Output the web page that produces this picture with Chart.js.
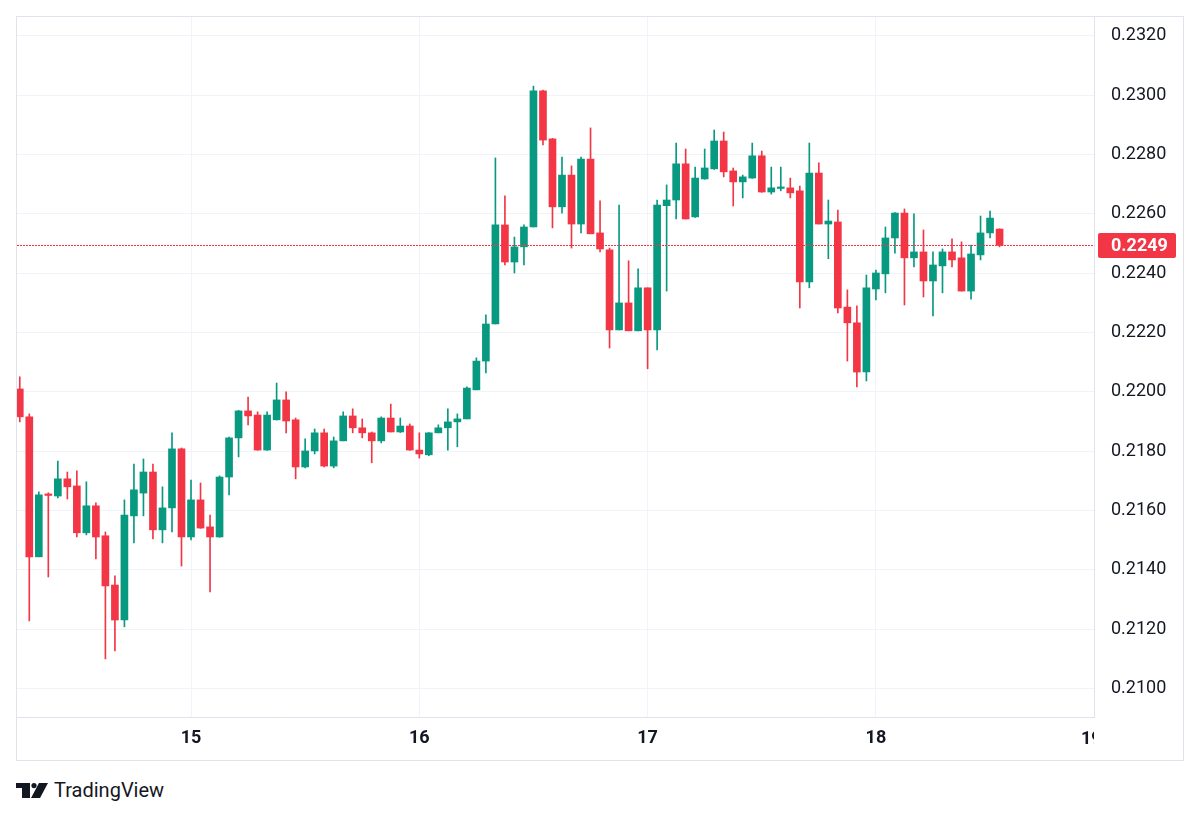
<!DOCTYPE html>
<html lang="en">
<head>
  <meta charset="UTF-8">
  <title>Hourly candles</title>
  <script src="https://cdn.jsdelivr.net/npm/chart.js"></script>
  <style>
    body {
      margin: 0;
      background: #ffffff;
      width: 1200px;
      height: 817px;
      position: relative;
      overflow: hidden;
    }

    .frame {
      position: absolute;
      left: 16px;
      top: 16px;
      width: 1166px;
      height: 743px;
      border: 1px solid #e0e3eb;
    }

    .brand {
      position: absolute;
      left: 16px;
      top: 778px;
      display: flex;
      align-items: center;
      font-family: Roboto, sans-serif;
      font-size: 20px;
      color: #131722;
    }

    .brand svg {
      margin-right: 6px;
    }
  </style>
</head>
<body>
  <div class="frame">
    <canvas id="grafico"></canvas>
  </div>

  <div class="brand">
    <svg width="32" height="15" viewBox="0 0 32 15">
      <rect x="0" y="0" width="14" height="5" fill="#131722"/>
      <rect x="6" y="0" width="8" height="15" fill="#131722"/>
      <circle cx="18" cy="2.6" r="2.6" fill="#131722"/>
      <polygon points="23,0 32,0 24,15 15,15" fill="#131722"/>
    </svg>
    <span>TradingView</span>
  </div>

  <script>
    // hourly candles, first one is day 14 at 06:00
    const firstHour = 14 + 6 / 24;

    const open = [
      0.22010, 0.21916, 0.21444, 0.21656, 0.21649, 0.21707, 0.21683, 0.21525, 0.21616, 0.21515,
      0.21349, 0.21231, 0.21582, 0.21659, 0.21730, 0.21535, 0.21609, 0.21808, 0.21511, 0.21636,
      0.21545, 0.21511, 0.21713, 0.21845, 0.21936, 0.21922, 0.21804, 0.21906, 0.21973, 0.21906,
      0.21747, 0.21801, 0.21862, 0.21750, 0.21835, 0.21919, 0.21879, 0.21862, 0.21835, 0.21912,
      0.21865, 0.21885, 0.21804, 0.21788, 0.21862, 0.21879, 0.21899, 0.21909, 0.22007, 0.22104,
      0.22229, 0.22563, 0.22438, 0.22489, 0.22556, 0.23015, 0.22853, 0.22624, 0.22731, 0.22566,
      0.22785, 0.22536, 0.22479, 0.22209, 0.22300, 0.22206, 0.22351, 0.22209, 0.22628, 0.22647,
      0.22769, 0.22590, 0.22718, 0.22752, 0.22846, 0.22745, 0.22708, 0.22721, 0.22796, 0.22674,
      0.22686, 0.22688, 0.22678, 0.22371, 0.22738, 0.22566, 0.22573, 0.22286, 0.22233, 0.22067,
      0.22347, 0.22398, 0.22519, 0.22603, 0.22452, 0.22472, 0.22374, 0.22425, 0.22472, 0.22452,
      0.22340, 0.22462, 0.22536, 0.22549
    ];
    const high = [
      0.22051, 0.21926, 0.21663, 0.21660, 0.21767, 0.21730, 0.21734, 0.21697, 0.21626, 0.21528,
      0.21380, 0.21636, 0.21757, 0.21774, 0.21757, 0.21680, 0.21862, 0.21811, 0.21703, 0.21693,
      0.21585, 0.21717, 0.21848, 0.21938, 0.21983, 0.21933, 0.21933, 0.22030, 0.22000, 0.21912,
      0.21842, 0.21875, 0.21875, 0.21848, 0.21933, 0.21943, 0.21909, 0.21865, 0.21916, 0.21959,
      0.21912, 0.21892, 0.21862, 0.21863, 0.21889, 0.21943, 0.21926, 0.22017, 0.22115, 0.22260,
      0.22789, 0.22661, 0.22522, 0.22563, 0.23031, 0.23018, 0.22855, 0.22792, 0.22762, 0.22792,
      0.22890, 0.22644, 0.22485, 0.22630, 0.22442, 0.22415, 0.22351, 0.22647, 0.22698, 0.22839,
      0.22819, 0.22758, 0.22819, 0.22883, 0.22876, 0.22755, 0.22731, 0.22839, 0.22812, 0.22758,
      0.22758, 0.22721, 0.22694, 0.22839, 0.22772, 0.22647, 0.22613, 0.22344, 0.22290, 0.22394,
      0.22411, 0.22556, 0.22605, 0.22617, 0.22600, 0.22546, 0.22472, 0.22482, 0.22516, 0.22506,
      0.22495, 0.22593, 0.22610, 0.22550
    ];
    const low = [
      0.21899, 0.21228, 0.21444, 0.21376, 0.21643, 0.21639, 0.21511, 0.21518, 0.21437, 0.21100,
      0.21127, 0.21208, 0.21491, 0.21582, 0.21504, 0.21491, 0.21528, 0.21413, 0.21501, 0.21540,
      0.21326, 0.21510, 0.21653, 0.21781, 0.21889, 0.21803, 0.21803, 0.21905, 0.21862, 0.21707,
      0.21744, 0.21791, 0.21747, 0.21744, 0.21835, 0.21862, 0.21845, 0.21761, 0.21828, 0.21865,
      0.21863, 0.21803, 0.21777, 0.21785, 0.21862, 0.21804, 0.21815, 0.21909, 0.22007, 0.22064,
      0.22229, 0.22428, 0.22401, 0.22428, 0.22556, 0.22833, 0.22553, 0.22603, 0.22485, 0.22536,
      0.22533, 0.22472, 0.22148, 0.22209, 0.22206, 0.22206, 0.22078, 0.22142, 0.22340, 0.22583,
      0.22583, 0.22588, 0.22717, 0.22750, 0.22725, 0.22627, 0.22654, 0.22720, 0.22673, 0.22667,
      0.22678, 0.22654, 0.22283, 0.22351, 0.22566, 0.22449, 0.22266, 0.22104, 0.22017, 0.22037,
      0.22310, 0.22334, 0.22468, 0.22293, 0.22421, 0.22320, 0.22256, 0.22334, 0.22421, 0.22340,
      0.22313, 0.22445, 0.22519, 0.22489
    ];
    const close = [
      0.21916, 0.21444, 0.21653, 0.21651, 0.21707, 0.21680, 0.21525, 0.21616, 0.21511, 0.21346,
      0.21231, 0.21585, 0.21670, 0.21730, 0.21535, 0.21609, 0.21808, 0.21511, 0.21636, 0.21541,
      0.21511, 0.21713, 0.21845, 0.21936, 0.21919, 0.21804, 0.21922, 0.21973, 0.21902, 0.21747,
      0.21801, 0.21862, 0.21750, 0.21835, 0.21919, 0.21879, 0.21862, 0.21835, 0.21912, 0.21865,
      0.21885, 0.21804, 0.21791, 0.21862, 0.21879, 0.21899, 0.21909, 0.22013, 0.22104, 0.22229,
      0.22563, 0.22438, 0.22489, 0.22556, 0.23015, 0.22849, 0.22624, 0.22731, 0.22566, 0.22785,
      0.22533, 0.22482, 0.22209, 0.22300, 0.22206, 0.22351, 0.22209, 0.22630, 0.22647, 0.22769,
      0.22583, 0.22721, 0.22755, 0.22846, 0.22742, 0.22708, 0.22725, 0.22796, 0.22674, 0.22688,
      0.22691, 0.22671, 0.22371, 0.22738, 0.22566, 0.22576, 0.22283, 0.22233, 0.22067, 0.22351,
      0.22401, 0.22519, 0.22603, 0.22452, 0.22472, 0.22374, 0.22428, 0.22472, 0.22445, 0.22340,
      0.22465, 0.22536, 0.22586, 0.22494
    ];

    const dayTicks = [15, 16, 17, 18];
    const priceTicks = [0.2100, 0.2120, 0.2140, 0.2160, 0.2180, 0.2200, 0.2220, 0.2240, 0.2260, 0.2280, 0.2300, 0.2320];

    const upColor = '#089981';
    const downColor = '#f23645';
    const textColor = '#131722';
    const fontName = 'Roboto, sans-serif';

    const times = open.map((o, i) => firstHour + i / 24);
    const colors = open.map((o, i) => close[i] >= o ? upColor : downColor);

    const wicks = times.map((t, i) => ({ x: t, y: [low[i], high[i]] }));
    const bodies = times.map((t, i) => ({ x: t, y: [open[i], close[i]] }));

    // dotted last price line + red price tag + the cut "19" label
    const lastPricePlugin = {
      id: 'lastPrice',
      afterDatasetsDraw(chart) {
        const ctx = chart.ctx;
        const area = chart.chartArea;
        const last = close[close.length - 1];
        const y = Math.round(chart.scales.y.getPixelForValue(last));

        ctx.save();
        ctx.fillStyle = downColor;
        for (let x = Math.round(area.left); x < area.right; x += 3) {
          ctx.fillRect(x, y, 2, 1);
        }
        ctx.restore();
      },
      afterDraw(chart) {
        const ctx = chart.ctx;
        const area = chart.chartArea;
        const last = close[close.length - 1];
        const y = Math.round(chart.scales.y.getPixelForValue(last));

        ctx.save();
        ctx.fillStyle = downColor;
        ctx.beginPath();
        ctx.roundRect(area.right + 4, y - 12, 78, 25, 2);
        ctx.fill();
        ctx.fillStyle = '#ffffff';
        ctx.font = 'bold 18px ' + fontName;
        ctx.textBaseline = 'middle';
        ctx.textAlign = 'left';
        ctx.fillText(last.toFixed(4), area.right + 17, y + 1);
        ctx.restore();

        // next day label, clipped by the price scale like in the original
        ctx.save();
        ctx.beginPath();
        ctx.rect(area.left, area.bottom + 1, area.right - area.left, 42);
        ctx.clip();
        ctx.fillStyle = textColor;
        ctx.font = 'bold 18px ' + fontName;
        ctx.textAlign = 'left';
        ctx.textBaseline = 'middle';
        ctx.fillText('19', area.right - 13, area.bottom + 22);
        ctx.restore();
      }
    };

    const ctx = document.getElementById('grafico').getContext('2d');

    new Chart(ctx, {
      type: 'bar',
      data: {
        datasets: [
          {
            label: 'wick',
            data: wicks,
            backgroundColor: colors,
            barThickness: 1,
            minBarLength: 1,
            grouped: false,
            order: 2
          },
          {
            label: 'body',
            data: bodies,
            backgroundColor: colors,
            barThickness: 7,
            minBarLength: 1,
            grouped: false,
            order: 1
          }
        ]
      },
      options: {
        responsive: true,
        maintainAspectRatio: false,
        animation: false,
        events: [],
        layout: { padding: 0 },
        plugins: {
          legend: { display: false },
          tooltip: { enabled: false }
        },
        scales: {
          x: {
            type: 'linear',
            offset: false,
            min: 14.2378,
            max: 18.9553,
            grid: { color: '#f0f3fa', offset: false, drawTicks: false },
            border: { display: true, color: '#e0e3eb' },
            afterBuildTicks(scale) {
              scale.ticks = dayTicks.map(v => ({ value: v }));
            },
            afterFit(scale) {
              scale.height = 43;
              scale.paddingLeft = 0;
              scale.paddingRight = 0;
            },
            ticks: {
              maxRotation: 0,
              autoSkip: false,
              padding: 11,
              color: textColor,
              font: { family: fontName, size: 18, weight: 'bold' },
              callback: v => String(v)
            }
          },
          y: {
            position: 'right',
            min: 0.20904,
            max: 0.23264,
            grid: { color: '#f0f3fa', drawTicks: false },
            border: { display: true, color: '#e0e3eb' },
            afterBuildTicks(scale) {
              scale.ticks = priceTicks.map(v => ({ value: v }));
            },
            afterFit(scale) {
              scale.width = 89;
              scale.paddingTop = 0;
              scale.paddingBottom = 0;
            },
            ticks: {
              padding: 17,
              color: textColor,
              font: { family: fontName, size: 18 },
              callback: v => v.toFixed(4)
            }
          }
        }
      },
      plugins: [lastPricePlugin]
    });
  </script>
</body>
</html>
